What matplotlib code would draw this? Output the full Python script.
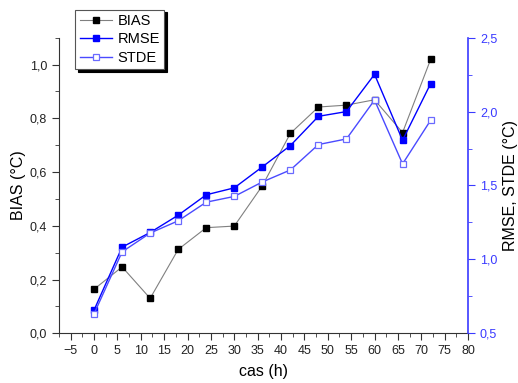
import matplotlib
import matplotlib.pyplot as plt
from matplotlib.ticker import FuncFormatter, MultipleLocator

matplotlib.use("Agg")

plt.rcParams["font.family"] = ["Liberation Sans", "DejaVu Sans"]

hours = [0, 6, 12, 18, 24, 30, 36, 42, 48, 54, 60, 66, 72]
bias = [0.164, 0.247, 0.130, 0.312, 0.393, 0.399, 0.549, 0.744, 0.842, 0.849, 0.869, 0.747, 1.019]
rmse = [0.657, 1.083, 1.182, 1.299, 1.437, 1.484, 1.626, 1.770, 1.968, 2.000, 2.252, 1.806, 2.189]
stde = [0.632, 1.051, 1.178, 1.261, 1.387, 1.426, 1.524, 1.605, 1.777, 1.815, 2.078, 1.646, 1.941]

BLUE = "#0000ff"
LIGHT_BLUE = "#4a4aff"
AXIS_BLUE = "#3a3aff"


def comma(fmt):
    return FuncFormatter(lambda v, _: fmt.format(v).replace(".", ","))


fig = plt.figure(figsize=(5.18, 3.83), dpi=100)
ax = fig.add_axes([0.1139, 0.1298, 0.7896, 0.7718])
ax2 = ax.twinx()

ax.plot(hours, bias, color="#808080", linewidth=0.8, marker="s", markersize=5,
        markerfacecolor="black", markeredgecolor="black", label="BIAS", zorder=2)
ax2.plot(hours, rmse, color=BLUE, linewidth=1.0, marker="s", markersize=5,
         markerfacecolor=BLUE, markeredgecolor=BLUE, label="RMSE", zorder=3)
ax2.plot(hours, stde, color=LIGHT_BLUE, linewidth=1.0, marker="s", markersize=5,
         markerfacecolor="white", markeredgecolor="#6a6aff", markeredgewidth=0.9,
         label="STDE", zorder=4)

ax.set_xlim(-7.5, 80)
ax.set_ylim(0, 1.1)
ax2.set_ylim(0.5, 2.5)

ax.xaxis.set_major_locator(MultipleLocator(5))
ax.xaxis.set_minor_locator(MultipleLocator(2.5))
ax.yaxis.set_major_locator(MultipleLocator(0.2))
ax.yaxis.set_minor_locator(MultipleLocator(0.1))
ax2.yaxis.set_major_locator(MultipleLocator(0.5))
ax2.yaxis.set_minor_locator(MultipleLocator(0.25))
ax.yaxis.set_major_formatter(comma("{:.1f}"))
ax2.yaxis.set_major_formatter(comma("{:.1f}"))

for a in (ax, ax2):
    a.spines["top"].set_visible(False)
ax.spines["right"].set_visible(False)
ax2.spines["left"].set_visible(False)
ax2.spines["bottom"].set_visible(False)
ax.spines["left"].set_color("#333333")
ax.spines["bottom"].set_color("#333333")
ax2.spines["right"].set_color(AXIS_BLUE)
ax2.spines["right"].set_linewidth(1.2)

ax.tick_params(axis="both", which="major", direction="out", length=5, labelsize=9,
               color="#333333", labelcolor="#222222")
ax.tick_params(axis="both", which="minor", direction="out", length=3, color="#333333")
ax2.tick_params(axis="y", which="major", direction="out", length=5, labelsize=9,
                color=AXIS_BLUE, labelcolor=AXIS_BLUE)
ax2.tick_params(axis="y", which="minor", direction="out", length=3, color=AXIS_BLUE)

ax.set_xlabel("cas (h)", fontsize=11.5, labelpad=5)
ax.set_ylabel("BIAS (°C)", fontsize=11.5, labelpad=3)
ax2.set_ylabel("RMSE, STDE (°C)", fontsize=11.5, labelpad=4)

# legend with a solid black drop shadow
handles = ax.get_legend_handles_labels()[0] + ax2.get_legend_handles_labels()[0]
leg = ax.legend(handles, ["BIAS", "RMSE", "STDE"], loc="upper left",
                bbox_to_anchor=(0.04, 1.095), fontsize=10.5, fancybox=False,
                shadow={"color": "black", "alpha": 1},
                edgecolor="#555555", framealpha=1, borderpad=0.3, labelspacing=0.3,
                handlelength=2.2, handletextpad=0.4, borderaxespad=0)
leg.get_frame().set_linewidth(0.8)
leg.set_zorder(10)

fig.savefig("out.png", dpi=100)
